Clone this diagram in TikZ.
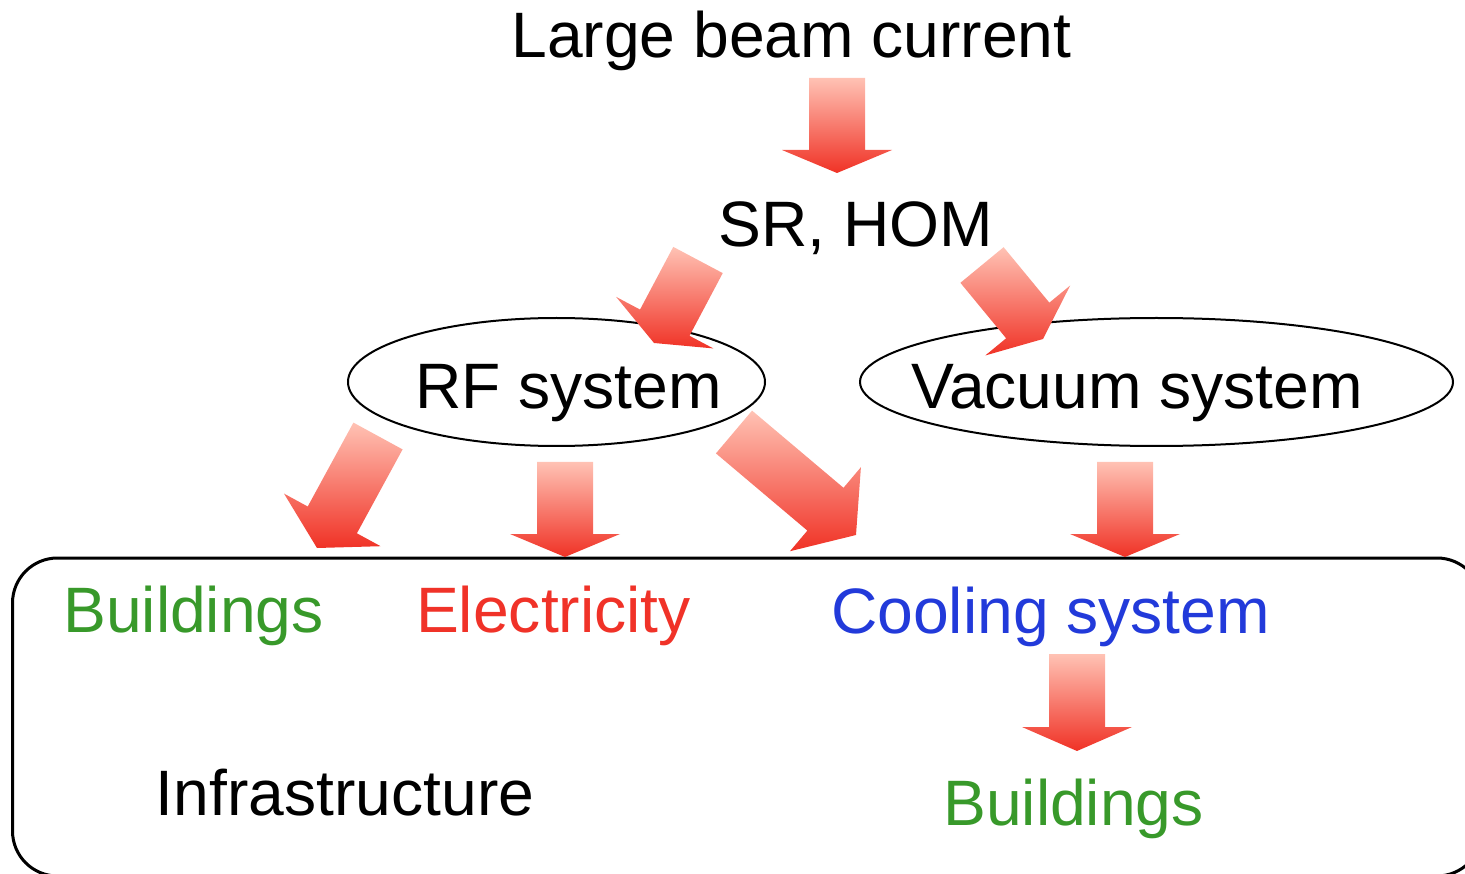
\documentclass[tikz,border=0pt]{standalone}
\usepackage{fontspec}
\setmainfont{Liberation Sans}
\usetikzlibrary{calc,shapes.geometric}
\definecolor{arrtop}{RGB}{255,194,180}
\definecolor{arrbot}{RGB}{240,50,38}
\definecolor{txtgreen}{RGB}{56,153,42}
\definecolor{txtred}{RGB}{240,50,40}
\definecolor{txtblue}{RGB}{34,58,218}
\tikzset{
  arrowshade/.style={top color=arrtop, bottom color=arrbot, draw=none},
  lbl/.style={inner sep=0pt, anchor=base, font=\fontsize{64.2}{77}\selectfont},
  oval/.style={ellipse, draw=black, line width=2pt, inner sep=0pt},
  frame/.style={draw=black, line width=3pt, rounded corners=45pt}
}
\newcommand\blockarr[4]{%
  \coordinate (#1-b) at ($(#3)!#4!(#2)$);
  \shade[arrowshade] ($(#2)!28pt!90:(#3)$) -- ($(#1-b)!28pt!90:(#3)$) -- ($(#1-b)!55pt!90:(#3)$) -- (#3) -- ($(#1-b)!55pt!-90:(#3)$) -- ($(#1-b)!28pt!-90:(#3)$) -- ($(#2)!28pt!-90:(#3)$) -- cycle;
}
\begin{document}
\begin{tikzpicture}[x=1pt,y=-1pt]
\useasboundingbox (0,0) rectangle (1465,874);
\clip (0,0) rectangle (1465,874);

% frame
\draw[frame] (12.5,558) rectangle (1482,876);

% ellipses
\node[oval, minimum width=417pt, minimum height=128pt] (rf) at (556.5,382) {};
\node[oval, minimum width=593pt, minimum height=128pt] (vac) at (1156.5,382) {};

% texts
\node[lbl] (beam) at (791.5,57.5) {Large beam current};
\node[lbl] (srhom) at (856,247) {SR, HOM};
\node[lbl] (rftxt) at (568.5,409) {RF system};
\node[lbl] (vactxt) at (1137,409) {Vacuum system};
\node[lbl, text=txtgreen] (bld1) at (193.5,632.5) {Buildings};
\node[lbl, text=txtred] (elec) at (553.5,632.5) {Electricity};
\node[lbl, text=txtblue] (cool) at (1050.5,633) {Cooling system};
\node[lbl] (infra) at (345,815) {Infrastructure};
\node[lbl, text=txtgreen] (bld2) at (1073.5,825) {Buildings};

% arrow ends
\coordinate (t1) at (837,78);   \coordinate (h1) at (837,173);
\coordinate (t2) at (698,260);  \coordinate (h2) at (654,343);
\coordinate (t3) at (982,265);  \coordinate (h3) at (1043,339);
\coordinate (t4) at (378,436);  \coordinate (h4) at (317,548);
\coordinate (t5) at (565,462);  \coordinate (h5) at (565,557);
\coordinate (t6) at (734,432);  \coordinate (h6) at (856,535);
\coordinate (t7) at (1125,462); \coordinate (h7) at (1125,557);
\coordinate (t8) at (1077,654); \coordinate (h8) at (1077,751);

\blockarr{a1}{t1}{h1}{23pt}
\blockarr{a2}{t2}{h2}{23pt}
\blockarr{a3}{t3}{h3}{24pt}
\blockarr{a4}{t4}{h4}{32pt}
\blockarr{a5}{t5}{h5}{23pt}
\blockarr{a6}{t6}{h6}{40pt}
\blockarr{a7}{t7}{h7}{23pt}
\blockarr{a8}{t8}{h8}{24pt}
\end{tikzpicture}
\end{document}
